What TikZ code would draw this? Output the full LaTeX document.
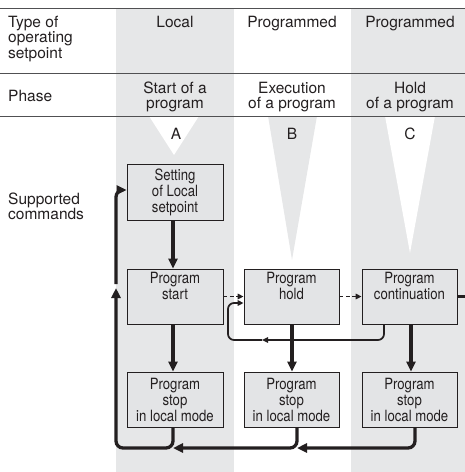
\documentclass[tikz,border=0pt]{standalone}
\usepackage{fontspec}
\setmainfont{TeX Gyre Heros}
\newfontfamily\condfont[FakeStretch=0.85]{TeX Gyre Heros}
\usetikzlibrary{arrows.meta}
\definecolor{colgray}{HTML}{E6E7E8}
\definecolor{boxgray}{HTML}{E3E4E6}
\definecolor{ink}{HTML}{231F20}
\definecolor{rulec}{HTML}{505052}
\tikzset{
  hdr/.style={inner sep=0pt, font=\fontsize{15.5}{15.5}\selectfont, text=ink},
  cmdbox/.style={draw=ink, line width=0.8pt, fill=boxgray, inner sep=0pt,
    minimum width=96pt, minimum height=55pt, align=center,
    font=\condfont\fontsize{15.5}{16}\selectfont, text=ink},
  thickarrow/.style={draw=ink, line width=3.3pt, -{Triangle[length=10pt,width=9pt]}},
  thickline/.style={draw=ink, line width=3.3pt},
  thinarrow/.style={draw=ink, line width=1.7pt, -{Triangle[length=6pt,width=5.5pt]}},
  thinline/.style={draw=ink, line width=1.7pt},
  dasharrow/.style={draw=ink, line width=1.5pt, dash pattern=on 4pt off 2.5pt, -{Triangle[length=6pt,width=5.5pt]}},
  headrule/.style={draw=rulec, line width=1pt}
}
\begin{document}
\begin{tikzpicture}[x=1pt,y=-1pt]
\useasboundingbox (0,0) rectangle (465,472);
% shaded columns
\fill[colgray] (116,8) rectangle (234,472);
\fill[colgray] (351,8) rectangle (465,472);
% phase triangles
\fill[white] (149,116) -- (199,116) -- (174,155) -- cycle;
\fill[colgray] (268,116) -- (317,116) -- (292,260) -- cycle;
\fill[white] (385,116) -- (435,116) -- (410,253) -- cycle;
% rules
\draw[headrule] (0,8) -- (465,8);
\draw[headrule] (0,73) -- (465,73);
\draw[headrule] (0,116) -- (465,116);
% header texts
\node[hdr, anchor=north west, align=left] (typelbl) at (8,15.5) {Type of\\operating\\setpoint};
\node[hdr, anchor=base] (typeA) at (175,27) {Local};
\node[hdr, anchor=base] (typeB) at (292,27) {Programmed};
\node[hdr, anchor=base] (typeC) at (410,27) {Programmed};
\node[hdr, anchor=base west] (phaselbl) at (8,101) {Phase};
\node[hdr, anchor=north, align=center] (phaseA) at (175,81.5) {Start of a\\program};
\node[hdr, anchor=north, align=center] (phaseB) at (292,81.5) {Execution\\of a program};
\node[hdr, anchor=north, align=center] (phaseC) at (410,81.5) {Hold\\of a program};
\node[hdr, anchor=base] (lblA) at (176,139) {A};
\node[hdr, anchor=base] (lblB) at (292,139) {B};
\node[hdr, anchor=base] (lblC) at (410,139) {C};
\node[hdr, anchor=north west, align=left] (suplbl) at (8,192.5) {Supported\\commands};
% command boxes
\node[cmdbox, minimum height=56pt] (setA) at (175,192) {Setting\\of Local\\setpoint};
\node[cmdbox] (startA) at (175,296.5) {Program\\start\\\strut};
\node[cmdbox] (stopA) at (175,399.5) {Program\\stop\\in local mode};
\node[cmdbox, minimum width=95pt] (holdB) at (291.5,296.5) {Program\\hold\\\strut};
\node[cmdbox, minimum width=95pt] (stopB) at (291.5,399.5) {Program\\stop\\in local mode};
\node[cmdbox, minimum width=95pt] (contC) at (409.5,296.5) {Program\\continuation\\\strut};
\node[cmdbox, minimum width=95pt] (stopC) at (409.5,399.5) {Program\\stop\\in local mode};
% coordinates
\coordinate (jB) at (297,448);
\coordinate (jA) at (173,448);
\coordinate (cL) at (116,448);
\coordinate (mA) at (116,288);
\coordinate (mA2) at (116,284);
\coordinate (lm) at (262,340);
\coordinate (lc) at (228,303);
\coordinate (edge) at (466,296.5);
% vertical command arrows
\draw[thickarrow] ([xshift=-2pt]setA.south) -- ([xshift=-2pt]startA.north);
\draw[thickarrow] ([xshift=-2pt]startA.south) -- ([xshift=-2pt]stopA.north);
\draw[thickarrow] ([xshift=0.5pt]holdB.south) -- ([xshift=0.5pt]stopB.north);
\draw[thickarrow] ([xshift=1.5pt]contC.south) -- ([xshift=1.5pt]stopC.north);
% dashed transitions
\draw[dasharrow] (startA.east) -- (holdB.west);
\draw[dasharrow] (holdB.east) -- (contC.west);
\draw[thickline] (contC.east) -- (edge);
% thin loop continuation -> hold
\draw[thinarrow, rounded corners=6pt] ([xshift=-25.5pt]contC.south) |- (lm);
\draw[thinarrow, rounded corners=6pt] (lm) -| (lc) -- ([yshift=-6.5pt]holdB.west);
% thick return loop
\draw[thickarrow, rounded corners=7pt] ([xshift=5.5pt]stopC.south) |- (jB);
\draw[thickarrow, rounded corners=7pt] ([xshift=5.5pt]stopB.south) |- (jA);
\draw[thickarrow, rounded corners=7pt] ([xshift=-2pt]stopA.south) |- (cL) -- (mA);
\draw[thickarrow, rounded corners=7pt] (mA2) |- ([yshift=2pt]setA.west);
\end{tikzpicture}
\end{document}
